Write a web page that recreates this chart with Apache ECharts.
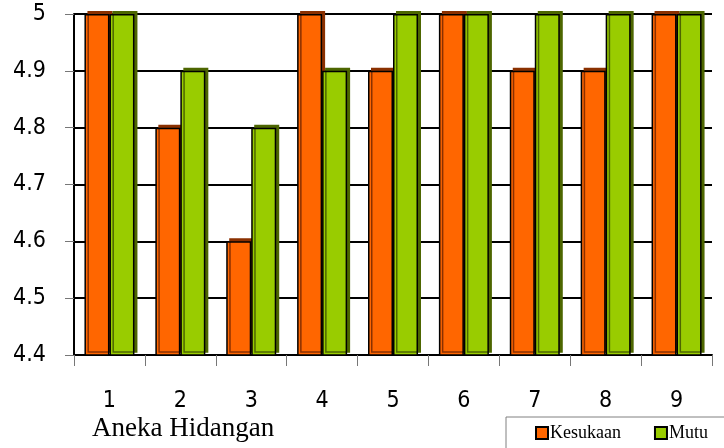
<!DOCTYPE html>
<html><head><meta charset="utf-8">
<script src="https://cdn.jsdelivr.net/npm/echarts@6/dist/echarts.min.js"></script>
<style>html,body{margin:0;padding:0;background:#fff}#c{width:724px;height:448px}</style>
</head><body><div id="c"></div>
<script>
const categories = ['1','2','3','4','5','6','7','8','9'];
const kesukaan = [5, 4.8, 4.6, 5, 4.9, 5, 4.9, 4.9, 5];
const mutu = [5, 4.9, 4.8, 4.9, 5, 5, 5, 5, 5];
const seriesNames = ['Kesukaan', 'Mutu'];
const xName = 'Aneka Hidangan';

const chart = echarts.init(document.getElementById('c'), null, {renderer:'canvas'});
chart.setOption({
  animation: false,
  backgroundColor: '#fff',
  grid: {left: 74, right: 12, top: 14, bottom: 93, containLabel: false},
  title: {
    text: xName, left: 87, top: 410,
    textStyle: {fontFamily: 'Liberation Serif', fontSize: 27, fontWeight: 'normal', color: '#000'}
  },
  legend: {
    data: seriesNames,
    left: 506, top: 417, width: 300,
    orient: 'horizontal',
    padding: [7, 40, 10, 29],
    itemGap: 33,
    itemWidth: 12, itemHeight: 12,
    icon: 'rect',
    borderColor: '#808080', borderWidth: 1,
    textStyle: {fontFamily: 'Liberation Serif', fontSize: 18, color: '#000', padding: [0,0,0,-3]}
  },
  xAxis: {
    type: 'category', data: categories,
    axisLine: {lineStyle: {color: '#000', width: 2}},
    axisTick: {show: true, length: 11, lineStyle: {color: '#777', width: 1}},
    axisLabel: {margin: 35, fontFamily: 'DejaVu Sans Condensed', fontSize: 23, color: '#000'}
  },
  yAxis: {
    type: 'value', min: 4.4, max: 5, interval: 0.1,
    axisLine: {show: true, lineStyle: {color: '#000', width: 2}},
    axisTick: {show: true, length: 9, lineStyle: {color: '#777', width: 1}},
    axisLabel: {margin: 28, fontFamily: 'DejaVu Sans Condensed', fontSize: 23, color: '#000',
      formatter: v => (Math.round(v*10)/10).toString()},
    splitLine: {lineStyle: {color: '#000', width: 2}}
  },
  series: [
    {name: seriesNames[0], type: 'bar', data: kesukaan, barWidth: 25, barGap: '0%',
     itemStyle: {color: '#FF6600', borderColor: '#000', borderWidth: 1.5,
       shadowColor: '#8a3000', shadowOffsetX: 3, shadowOffsetY: -3, shadowBlur: 0}},
    {name: seriesNames[1], type: 'bar', data: mutu, barWidth: 25, barGap: '0%',
     itemStyle: {color: '#99CC00', borderColor: '#000', borderWidth: 1.5,
       shadowColor: '#4d6600', shadowOffsetX: 3, shadowOffsetY: -3, shadowBlur: 0}}
  ]
});
</script></body></html>
